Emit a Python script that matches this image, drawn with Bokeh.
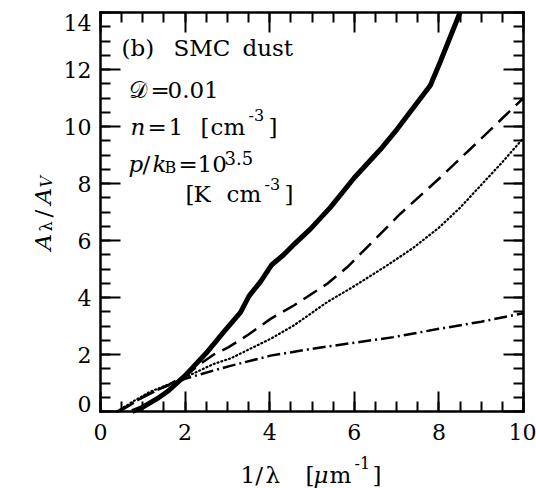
from bokeh.plotting import figure
from bokeh.models import Range1d, LinearAxis, Label, FixedTicker, CustomJSTickFormatter
from bokeh.embed import file_html
from bokeh.resources import INLINE

# ---- data ----
solid_x = [0.75, 1.0, 1.34, 1.6, 2.0, 2.5, 2.92, 3.31, 3.51, 3.78, 4.05, 4.33, 4.6, 4.96, 5.44, 6.0, 6.62, 7.01, 7.8, 8.04, 8.5]
solid_y = [0.0, 0.15, 0.45, 0.72, 1.26, 2.05, 2.8, 3.48, 4.05, 4.55, 5.15, 5.5, 5.9, 6.4, 7.17, 8.2, 9.2, 9.9, 11.45, 12.3, 14.0]

dash_x = [0.45, 1.0, 1.6, 2.0, 2.36, 2.68, 3.03, 3.5, 4.02, 4.57, 5.36, 5.83, 6.46, 7.09, 8.04, 8.75, 10.0]
dash_y = [0.0, 0.5, 0.93, 1.25, 1.67, 2.0, 2.26, 2.7, 3.25, 3.72, 4.48, 5.06, 6.0, 6.94, 8.22, 9.22, 11.0]

dot_x = [0.39, 0.8, 1.18, 1.58, 2.0, 2.68, 3.07, 4.02, 4.57, 5.36, 6.0, 6.8, 7.4, 8.0, 8.5, 9.0, 9.5, 10.0]
dot_y = [0.0, 0.38, 0.7, 0.93, 1.2, 1.67, 1.86, 2.55, 3.02, 3.84, 4.4, 5.15, 5.75, 6.45, 7.15, 7.95, 8.75, 9.6]

dd_x = [0.39, 0.8, 1.18, 1.58, 2.0, 2.68, 3.07, 4.02, 5.0, 6.93, 8.0, 9.0, 10.0]
dd_y = [0.0, 0.33, 0.66, 0.9, 1.15, 1.44, 1.6, 1.96, 2.2, 2.61, 2.9, 3.15, 3.45]

x_major = [0, 2, 4, 6, 8, 10]
x_minor = [v * 0.5 for v in range(0, 21)]
y_major = [0, 2, 4, 6, 8, 10, 12, 14]
y_minor = [v * 0.5 for v in range(0, 29)]

FONT = "DejaVu Serif"
W, H = 536, 488
# the frame covers the whole canvas; the box is drawn by axes at fixed locations
X_LO, X_HI = -100 / 42.3, 10 + 13 / 42.3
Y_LO, Y_HI = -77 / 28.5, 14 + 12 / 28.5

p = figure(width=W, height=H, output_backend="svg", toolbar_location=None,
           x_range=Range1d(X_LO, X_HI), y_range=Range1d(Y_LO, Y_HI),
           min_border=0, x_axis_location=None, y_axis_location=None)
p.grid.visible = False
p.outline_line_color = None
p.background_fill_color = "white"
p.border_fill_color = "white"


def make_axis(major, minor, loc, bounds, show_labels):
    ax = LinearAxis(ticker=FixedTicker(ticks=major, minor_ticks=minor),
                    fixed_location=loc, bounds=bounds)
    ax.axis_line_width = 2.5
    ax.axis_line_color = "black"
    ax.axis_line_cap = "square"
    ax.major_tick_in = 20
    ax.major_tick_out = 0
    ax.minor_tick_in = 10
    ax.minor_tick_out = 0
    ax.major_tick_line_width = 2
    ax.minor_tick_line_width = 2
    ax.major_tick_line_color = "black"
    ax.minor_tick_line_color = "black"
    ax.major_label_text_font = FONT
    ax.major_label_text_font_size = "22px"
    ax.major_label_text_color = "black"
    if not show_labels:
        ax.formatter = CustomJSTickFormatter(code="return ''")
    return ax


bottom = make_axis(x_major, x_minor, 0, (0, 10), True)
bottom.major_label_standoff = 12
top = make_axis(x_major, x_minor, 14, (0, 10), False)
left = make_axis(y_major, y_minor, 0, (0, 14), True)
left.major_label_standoff = 9
left.major_label_overrides = {0: "", 14: ""}
right = make_axis(y_major, y_minor, 10, (0, 14), False)

p.add_layout(bottom, "below")
p.add_layout(top, "above")
p.add_layout(left, "left")
p.add_layout(right, "right")

# ---- curves ----
p.line(solid_x, solid_y, line_color="black", line_width=5)
p.line(dash_x, dash_y, line_color="black", line_width=2.5, line_dash="16 8")
p.line(dot_x, dot_y, line_color="black", line_width=2.2, line_dash="1 3", line_cap="round")
p.line(dd_x, dd_y, line_color="black", line_width=2.5, line_dash="13 4 2 4")


# ---- text (pixel positions converted to data coordinates) ----
def put(txt, px, py, size=23, italic=False, angle=0.0, align="left", baseline="alphabetic"):
    if angle == 0.0 and baseline == "alphabetic":
        py -= 7  # compensate the renderer's baseline placement
    x = X_LO + px / W * (X_HI - X_LO)
    y = Y_HI - py / H * (Y_HI - Y_LO)
    p.add_layout(Label(x=x, y=y, text=txt,
                       text_font=FONT, text_font_size=f"{size}px",
                       text_font_style="italic" if italic else "normal",
                       text_align=align, text_baseline=baseline,
                       angle=angle, angle_units="rad", text_color="black"))


# end labels of the y axis, nudged inward as in the reference
put("0", 91, 403, size=22, align="right", baseline="middle")
put("14", 91, 22, size=22, align="right", baseline="middle")

# (b) SMC dust
put("(b)", 121, 54)
put("SMC", 173, 54)
put("dust", 242, 54)
# D = 0.01
put("\U0001D49F", 128, 96)
put("=", 150, 96)
put("0.01", 167, 96)
# n = 1 [cm^-3]
put("n", 130, 133, italic=True)
put("=", 147, 133)
put("1", 168, 133)
put("[", 200, 133)
put("cm", 210, 133)
put("-3", 248, 121, size=16)
put("]", 268, 133)
# p/k_B = 10^3.5
put("p", 128, 170, italic=True)
put("/", 142, 170)
put("k", 152, 170, italic=True)
put("B", 164, 174, size=16)
put("=", 178, 170)
put("10", 197, 170)
put("3.5", 224, 164, size=18)
# [K cm^-3]
put("[", 185, 200)
put("K", 193, 200)
put("cm", 226, 200)
put("-3", 264, 190, size=16)
put("]", 284, 200)

# x axis label: 1/lambda [mu m^-1]
put("1/", 240, 481)
put("\u03bb", 265, 481)
put("[", 305, 481)
put("\u03bc", 313, 481, italic=True)
put("m", 329, 481)
put("-1", 354, 469, size=16)
put("]", 372, 481)

# y axis label: A_lambda / A_V (rotated)
ANG = 1.5708
put("A", 42, 250, italic=True, angle=ANG)
put("\u03bb", 46, 231, size=16, angle=ANG)
put("/", 42, 217, angle=ANG)
put("A", 42, 204, italic=True, angle=ANG)
put("V", 46, 187, size=16, italic=True, angle=ANG)

open("out.html", "w").write(file_html(p, INLINE))
